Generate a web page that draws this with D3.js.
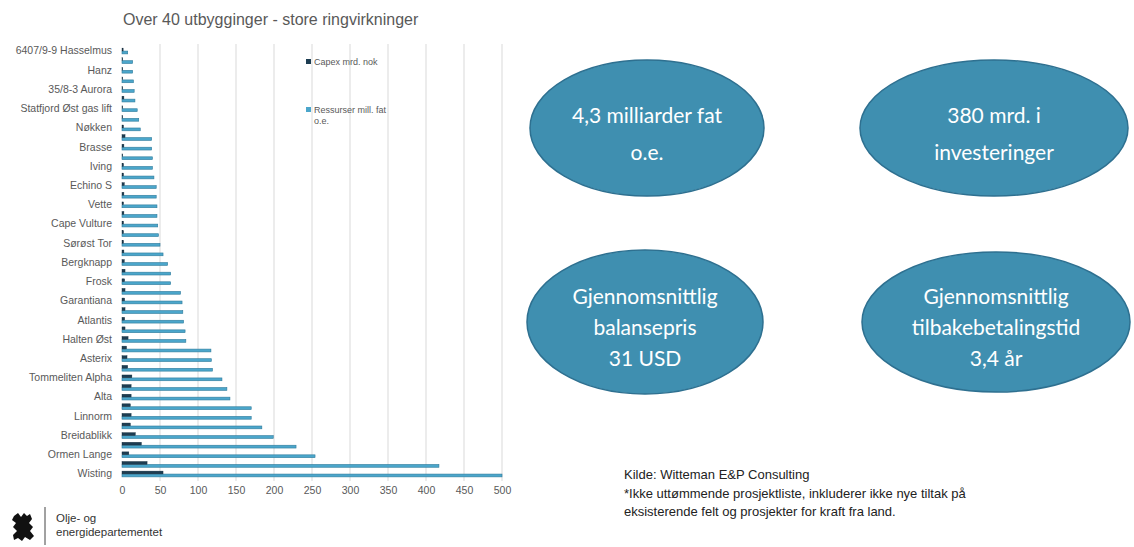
<!DOCTYPE html>
<html><head><meta charset="utf-8">
<script src="https://cdn.jsdelivr.net/npm/d3@7"></script>
<style>
body{margin:0;background:#fff;}
svg{display:block;}
</style></head>
<body>
<svg id="c" width="1134" height="547"></svg>
<script>
// ---- data (top to bottom as displayed) ----
const categoryLabels = [
 "6407/9-9 Hasselmus","","Hanz","","35/8-3 Aurora","","Statfjord Øst gas lift","","Nøkken","",
 "Brasse","","Iving","","Echino S","","Vette","","Cape Vulture","",
 "Sørøst Tor","","Bergknapp","","Frosk","","Garantiana","","Atlantis","",
 "Halten Øst","","Asterix","","Tommeliten Alpha","","Alta","","Linnorm","",
 "Breidablikk","","Ormen Lange","","Wisting"
];
const capex = [
 1.5,1,1,1,1,2.5,1,1,2,4,
 2.5,1,2,2,3,2.5,2,2.5,2,2,
 2,2.5,3,4,3.5,4,3.5,4,3.5,4,
 8,6,6.6,7.5,13,12,12,11,12,11,
 17.5,25.5,9,33,54
];
const ressurser = [
 7.5,14,14,15,16,17,20,22,24,39,
 39,40,40,42,45,45,46,46,47,48,
 50,54,60,64,64,77,79,80,81,83,
 84,117,117.5,119,131.5,138,142,170,170,184,
 199,229,254,417,500
];
const seriesNames = ["Capex mrd. nok","Ressurser mill. fat o.e."];
const xTicks = [0,50,100,150,200,250,300,350,400,450,500];
const title = "Over 40 utbygginger - store ringvirkninger";
const bubbles = [
 {lines:["4,3 milliarder fat","o.e."]},
 {lines:["380 mrd. i","investeringer"]},
 {lines:["Gjennomsnittlig","balansepris","31 USD"]},
 {lines:["Gjennomsnittlig","tilbakebetalingstid","3,4 år"]}
];
const footLines = ["Kilde: Witteman E&P Consulting",
 "*Ikke uttømmende prosjektliste, inkluderer ikke nye tiltak på",
 "eksisterende felt og prosjekter for kraft fra land."];
const logoLines = ["Olje- og","energidepartementet"];

// ---- drawing ----
const svg = d3.select("#c");
const idx = d3.range(categoryLabels.length);
const x = d3.scaleLinear().domain([0,500]).range([122,502]);
const y = d3.scaleBand().domain(idx).range([46.2,478.8]).paddingInner(0.4).paddingOuter(0.2);
const ys = d3.scaleBand().domain([0,1]).range([0,y.bandwidth()]).paddingInner(0.05);

svg.append("text").attr("x",123).attr("y",25).text(title)
  .attr("font-family","Liberation Sans, Arial").attr("font-size",16).attr("fill","#595959");

// gridlines
svg.append("g").selectAll("line").data(xTicks.filter(d=>d>0)).join("line")
  .attr("x1",d=>x(d)).attr("x2",d=>x(d)).attr("y1",44).attr("y2",481)
  .attr("stroke","#d9d9d9").attr("stroke-width",1);

// x axis labels
const xa = svg.append("g").attr("transform","translate(0,481)")
  .call(d3.axisBottom(x).tickValues(xTicks).tickSize(0).tickPadding(6));
xa.select(".domain").remove();
xa.selectAll("text").attr("font-family","Liberation Sans, Arial").attr("font-size",10.5).attr("fill","#595959");

// y labels
const ya = svg.append("g").attr("transform","translate(116,0)")
  .call(d3.axisLeft(y).tickSize(0).tickPadding(4).tickFormat(i=>categoryLabels[i]));
ya.select(".domain").remove();
ya.selectAll("text").attr("font-family","Liberation Sans, Arial").attr("font-size",10.5).attr("fill","#595959");

// bars
svg.append("g").selectAll("rect").data(idx).join("rect")
  .attr("x",x(0)).attr("y",i=>y(i)+ys(1))
  .attr("width",i=>x(ressurser[i])-x(0)).attr("height",ys.bandwidth())
  .attr("fill","#4ba6cb").attr("stroke","#2f7b9b").attr("stroke-width",0.6);
svg.append("g").selectAll("rect").data(idx).join("rect")
  .attr("x",x(0)).attr("y",i=>y(i)+ys(0))
  .attr("width",i=>x(capex[i])-x(0)).attr("height",ys.bandwidth())
  .attr("fill","#1d3d52").attr("stroke","#122838").attr("stroke-width",0.4);

// legend
const lg = svg.append("g").attr("font-family","Liberation Sans, Arial").attr("font-size",9).attr("fill","#595959");
lg.append("rect").attr("x",306).attr("y",59).attr("width",5).attr("height",5).attr("fill","#1d3d52");
lg.append("text").attr("x",314).attr("y",64.5).text(seriesNames[0]);
lg.append("rect").attr("x",306).attr("y",107).attr("width",5).attr("height",5).attr("fill","#4ba6cb");
lg.append("text").attr("x",314).attr("y",112.5).text("Ressurser mill. fat");
lg.append("text").attr("x",314).attr("y",124).text("o.e.");

// bubbles
const bpos = [{cx:647,cy:128,rx:117,ry:68},{cx:994,cy:128,rx:134,ry:68},
              {cx:645,cy:322,rx:118,ry:72},{cx:996,cy:322,rx:134,ry:70}];
const bg = svg.append("g").selectAll("g").data(bubbles).join("g");
bg.append("ellipse").attr("cx",(d,i)=>bpos[i].cx).attr("cy",(d,i)=>bpos[i].cy)
  .attr("rx",(d,i)=>bpos[i].rx).attr("ry",(d,i)=>bpos[i].ry)
  .attr("fill","#3f8fb0").attr("stroke","#2e7090").attr("stroke-width",1.5);
bg.each(function(d,i){
  const g = d3.select(this), n = d.lines.length, lh = n===2?37:31;
  d.lines.forEach((t,k)=>{
    g.append("text").attr("x",bpos[i].cx).attr("y",bpos[i].cy + (k-(n-1)/2)*lh + 13)
      .attr("text-anchor","middle").attr("font-family","Lato, Open Sans, sans-serif")
      .attr("font-size",21).attr("fill","#fff").text(t);
  });
});

// footnote
svg.append("g").selectAll("text").data(footLines).join("text")
  .attr("x",624).attr("y",(d,i)=>479+i*18.5).text(d=>d)
  .attr("font-family","Liberation Sans, Arial").attr("font-size",13).attr("fill","#222");

// logo
const logo = svg.append("g");
logo.append("path").attr("d","M14,516 L18,513 L21,517 L24,513 L27,516 L30,514 L32,519 L29,523 L33,527 L30,531 L34,536 L30,540 L25,537 L22,541 L18,538 L14,540 L13,535 L17,531 L13,527 L16,523 L12,520 Z")
  .attr("fill","#111");
logo.append("line").attr("x1",45).attr("x2",45).attr("y1",507).attr("y2",545).attr("stroke","#444").attr("stroke-width",1);
logo.selectAll("text").data(logoLines).join("text")
  .attr("x",56).attr("y",(d,i)=>522+i*14).text(d=>d)
  .attr("font-family","Liberation Sans, Arial").attr("font-size",11.5).attr("fill","#333");
</script>
</body></html>
